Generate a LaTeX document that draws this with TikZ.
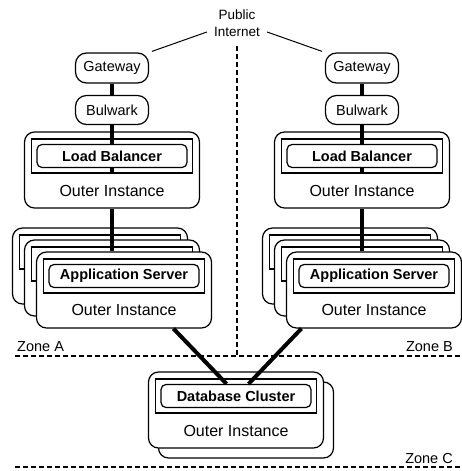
\documentclass[tikz,border=0pt]{standalone}
\usepackage{fontspec}
\setmainfont{Liberation Sans}
\usetikzlibrary{positioning,calc}

\begin{document}
\begin{tikzpicture}
[x=1pt,y=-1pt,
box/.style={draw,fill=white,line width=1.2pt,rounded corners=11pt,inner sep=0pt,minimum width=73pt,minimum height=30pt,font=\fontsize{14.5}{17}\selectfont},
instance/.style={draw,fill=white,line width=1.2pt,rounded corners=10pt,inner sep=0pt,minimum width=175pt,minimum height=76pt},
instsq/.style={draw,fill=white,line width=1.2pt,inner sep=0pt,minimum width=161pt,minimum height=34pt},
instin/.style={draw,line width=1.2pt,rounded corners=5pt,inner sep=0pt,minimum width=150pt,minimum height=23pt,font=\fontsize{14.5}{17}\selectfont\bfseries},
outertxt/.style={font=\fontsize{16}{19}\selectfont},
link/.style={line width=4pt},
netlink/.style={line width=1pt},
zone/.style={line width=1.2pt,dash pattern=on 5pt off 3pt},
zonetxt/.style={font=\fontsize{14.5}{17}\selectfont,inner sep=0pt}]
\useasboundingbox (0,0) rectangle (461,471);
%% internet
\node (pubtxt) [font=\fontsize{13.5}{16}\selectfont,inner sep=0pt] at (237,15) {Public};
\node (inettxt) [font=\fontsize{13.5}{16}\selectfont,inner xsep=7pt,inner ysep=0pt] at (237,32) {Internet};
%% zone A
\node (gwA) [box] at (112,68) {Gateway};
\node (bwA) [box,minimum height=29pt] at (112,110) {Bulwark};
\node (lbA) [instance] at (112,170) {};
\node (lbsqA) [instsq] at (112,156) {};
\node (lbinA) [instin] at (112,156) {Load Balancer};
\node (lbtxtA) [outertxt] at (112,191) {Outer Instance};
\node (appA1) [instance] at (100,266) {};
\node (appsqA1) [instsq] at (100,252) {};
\node (appA2) [instance] at (112,278) {};
\node (appsqA2) [instsq] at (112,264) {};
\node (appA3) [instance] at (124,290) {};
\node (appsqA3) [instsq] at (124,276) {};
\node (appinA) [instin] at (124,276) {Application Server};
\node (apptxtA) [outertxt] at (124,310) {Outer Instance};
%% zone B
\node (gwB) [box] at (362,68) {Gateway};
\node (bwB) [box,minimum height=29pt] at (362,110) {Bulwark};
\node (lbB) [instance] at (362,170) {};
\node (lbsqB) [instsq] at (362,156) {};
\node (lbinB) [instin] at (362,156) {Load Balancer};
\node (lbtxtB) [outertxt] at (362,191) {Outer Instance};
\node (appB1) [instance] at (350,266) {};
\node (appsqB1) [instsq] at (350,252) {};
\node (appB2) [instance] at (362,278) {};
\node (appsqB2) [instsq] at (362,264) {};
\node (appB3) [instance] at (374,290) {};
\node (appsqB3) [instsq] at (374,276) {};
\node (appinB) [instin] at (374,276) {Application Server};
\node (apptxtB) [outertxt] at (374,310) {Outer Instance};
%% zone C
\node (dbC0) [instance] at (246,420) {};
\node (dbC) [instance] at (236,410) {};
\node (dbsqC) [instsq] at (236,396) {};
\node (dbinC) [instin] at (236,396) {Database Cluster};
\node (dbtxtC) [outertxt] at (236,431) {Outer Instance};
%% links
\draw[netlink,shorten >=3pt] (inettxt.west) -- (gwA.north east);
\draw[netlink,shorten >=3pt] (inettxt.east) -- (gwB.north west);
\draw[link] (gwA) -- (bwA);
\draw[link] (bwA) -- (lbinA);
\draw[link] (lbinA) -- (lbsqA.south);
\draw[link] (lbA.south) -- (lbA.south |- appA3.north);
\draw[link] (gwB) -- (bwB);
\draw[link] (bwB) -- (lbinB);
\draw[link] (lbinB) -- (lbsqB.south);
\draw[link] (lbB.south) -- (lbB.south |- appB3.north);
\draw[link] (appA3.-38) -- (dbinC.128);
\draw[link] (appB3.208) -- (dbinC.44);
%% zones
\coordinate (vtop) at (237,46);
\coordinate (abl) at (15,356);
\coordinate (abr) at (461,356);
\coordinate (cl) at (15,467);
\coordinate (cr) at (461,467);
\draw[zone] (vtop) -- (vtop |- abl);
\draw[zone] (abl) -- (abr);
\draw[zone] (cl) -- (cr);
\node (zoneA) [zonetxt,anchor=west] at (17,347) {Zone A};
\node (zoneB) [zonetxt,anchor=east] at (453,347) {Zone B};
\node (zoneC) [zonetxt,anchor=east] at (453,459) {Zone C};
\end{tikzpicture}
\end{document}
